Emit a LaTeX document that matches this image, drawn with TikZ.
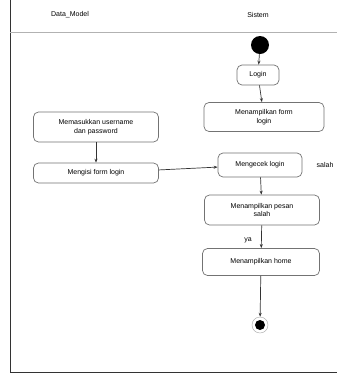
\documentclass[tikz,border=0pt]{standalone}
\usepackage{fontspec}
\setmainfont{Liberation Sans}
\usetikzlibrary{arrows.meta}
\begin{document}
\begin{tikzpicture}[x=1pt,y=-1pt,
  act/.style={draw=black!55,line width=0.7pt,rounded corners=5pt,fill=white,align=center,font=\fontsize{7}{8.5}\selectfont,inner sep=2pt},
  flow/.style={draw=black!80,line width=0.7pt,-{Stealth[length=4pt,width=3pt]}},
  lbl/.style={font=\fontsize{7}{8.5}\selectfont}]
\useasboundingbox (0,0) rectangle (337,376);
\fill[white] (0,0) rectangle (337,376);
% frame
\draw[line width=1pt,black!80] (10,0) -- (10,372) -- (337,372);
\draw[gray!60,line width=0.6pt] (10,32) -- (337,32);
\node[lbl] (h1) at (70,15) {Data\_Model};
\node[lbl] (h2) at (258,15) {Sistem};
% nodes
\node[circle,fill=black,minimum size=18pt,inner sep=0pt] (start) at (260,45) {};
\node[act,minimum width=42pt,minimum height=20pt] (login) at (258,75) {Login};
\node[act,minimum width=120pt,minimum height=29pt] (form) at (264,117) {Menampilkan form\\login};
\node[act,minimum width=125pt,minimum height=30pt] (masuk) at (96,127) {Memasukkan username\\dan password};
\node[act,minimum width=125pt,minimum height=20pt] (isi) at (96,173) {Mengisi form login};
\node[act,minimum width=84pt,minimum height=24pt] (cek) at (260,165) {Mengecek login};
\node[lbl,anchor=east] (salah) at (337,165) {salah};
\node[act,minimum width=115pt,minimum height=30pt] (pesan) at (262,210) {Menampilkan pesan\\salah};
\node[act,minimum width=117pt,minimum height=27pt] (home) at (261,262) {Menampilkan home};
\node[lbl] (ya) at (248,240) {ya};
\node[circle,draw=gray!70,minimum size=16pt,inner sep=0pt] (end) at (260,325) {};
\node[circle,fill=black,minimum size=10pt,inner sep=0pt] (endin) at (260,325) {};
% connectors
\draw[flow] (start) -- (login);
\draw[flow] (login) -- (form);
\draw[flow] (masuk) -- (isi);
\draw[flow] (isi) -- (cek);
\draw[flow] (cek) -- (pesan);
\draw[flow] (pesan) -- (home);
\draw[flow] (home) -- (end);
\end{tikzpicture}
\end{document}
